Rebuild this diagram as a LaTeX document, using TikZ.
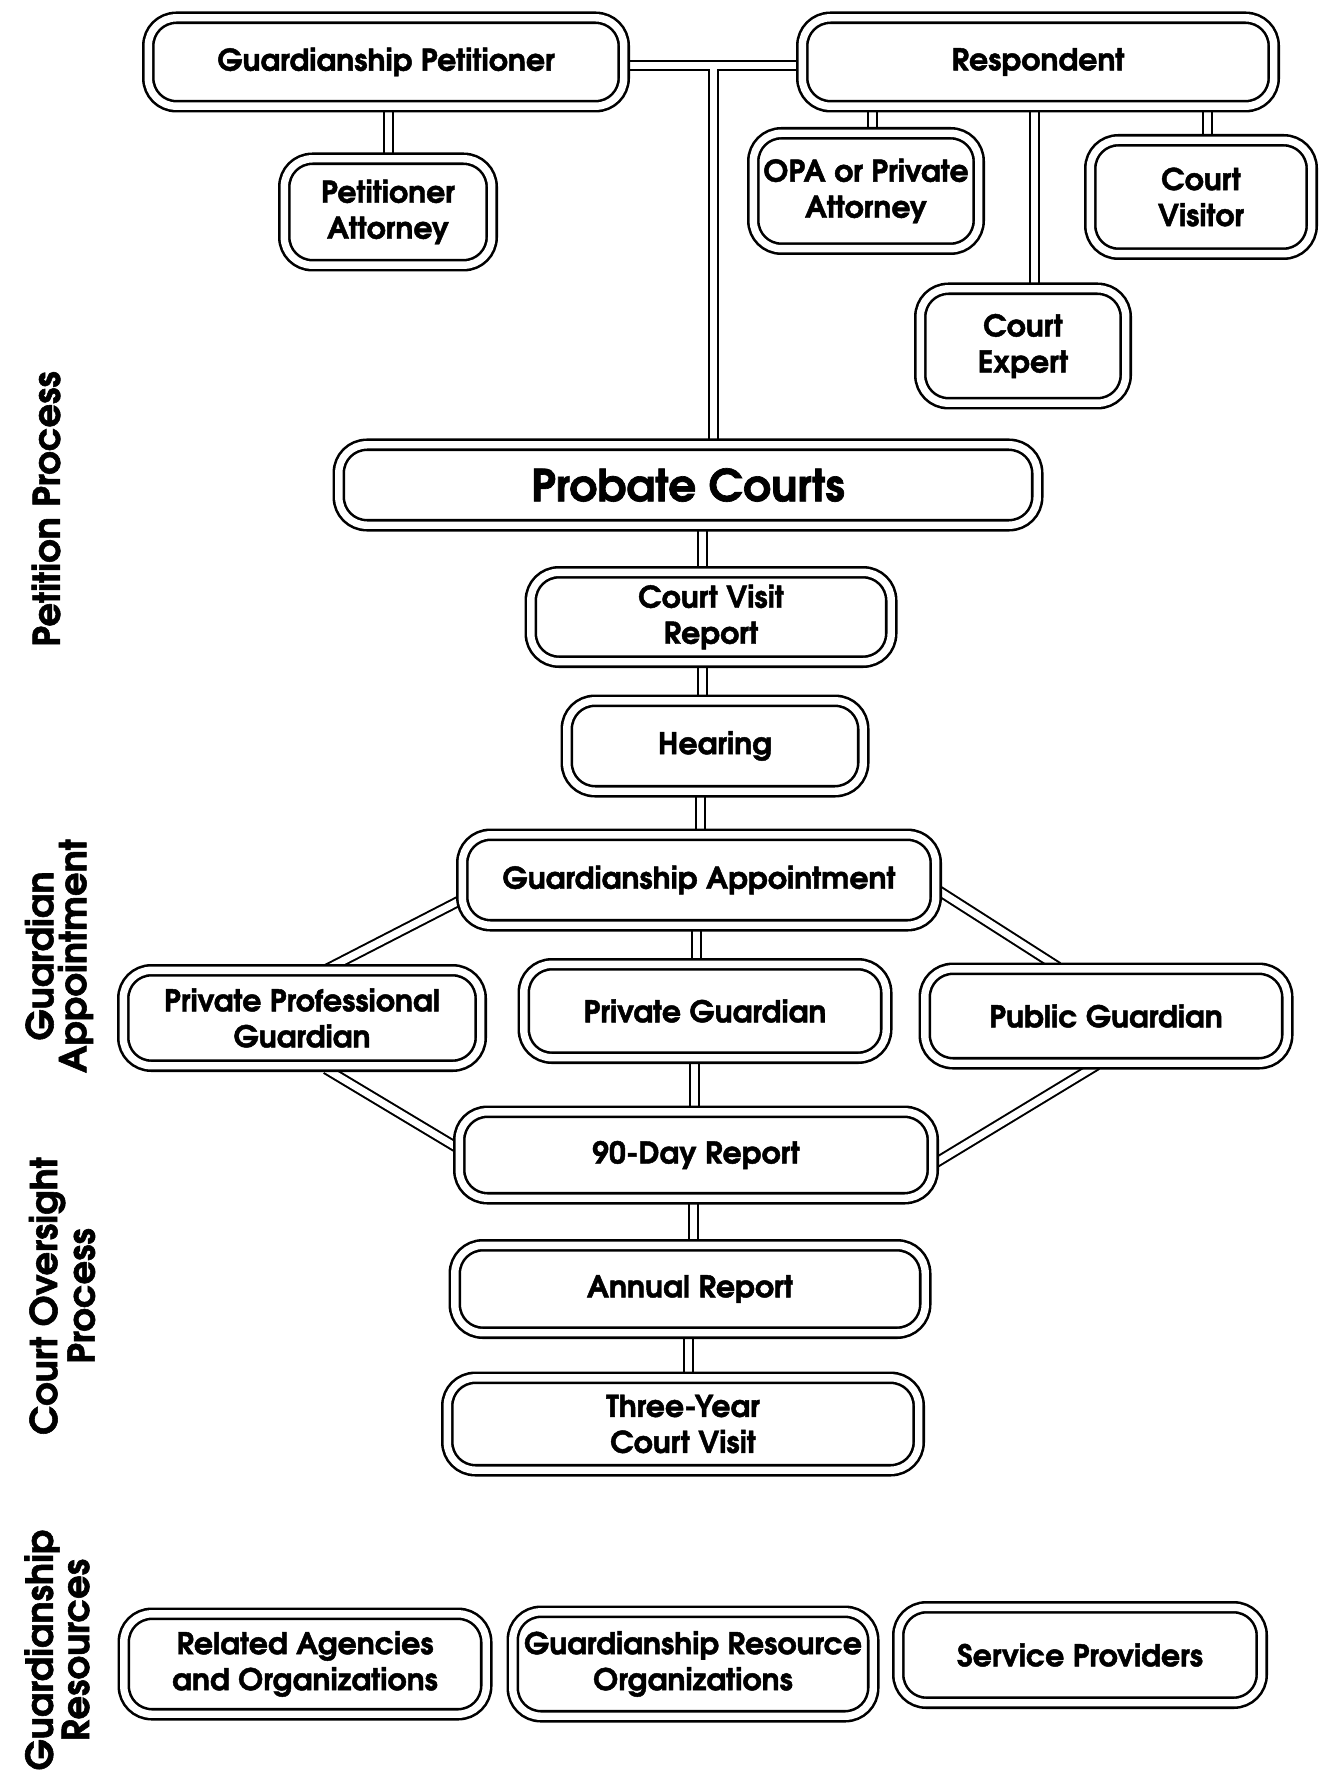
\documentclass[tikz,border=0pt]{standalone}
\usepackage{fontspec}
\setmainfont{TeX Gyre Adventor}[BoldFeatures={FakeBold=1.5}]
\usetikzlibrary{calc,backgrounds}
\tikzset{
  box/.style={draw=black, double=white, double distance=3.7pt, line width=1.3pt,
    rounded corners=14pt, fill=white, align=center, inner sep=0pt,
    font=\bfseries\fontsize{15}{18}\selectfont},
  cb/.style={line width=5.5pt, draw=black},
  cw/.style={line width=3.5pt, draw=white},
  side/.style={rotate=90, align=center, font=\bfseries\fontsize{18.5}{16.5}\selectfont}
}
\begin{document}
\begin{tikzpicture}[x=0.5pt,y=-0.5pt]
\useasboundingbox (0,0) rectangle (1323,1775);

% boxes
\node[box, minimum width=237.7pt, minimum height=44.2pt] (gp) at (386,62) {Guardianship Petitioner};
\node[box, minimum width=235.7pt, minimum height=44.2pt] (resp) at (1038,62) {Respondent};
\node[box, minimum width=103.7pt, minimum height=53.2pt] (pa) at (388,212) {Petitioner\\Attorney};
\node[box, minimum width=112.7pt, minimum height=57.7pt] (opa) at (866,191) {OPA or Private\\Attorney};
\node[box, minimum width=110.7pt, minimum height=56.7pt] (cv) at (1201,197) {Court\\Visitor};
\node[box, minimum width=102.7pt, minimum height=57.2pt] (ce) at (1023,346) {Court\\Expert};
\node[box, minimum width=349.2pt, minimum height=40.2pt, font=\bfseries\fontsize{22}{26}\selectfont] (pc) at (688,485) {Probate Courts};
\node[box, minimum width=180.2pt, minimum height=44.7pt] (cvr) at (711,617) {Court Visit\\Report};
\node[box, minimum width=148.2pt, minimum height=45.2pt] (hr) at (715,746) {Hearing};
\node[box, minimum width=236.7pt, minimum height=45.2pt] (ga) at (699,880) {Guardianship Appointment};
\node[box, minimum width=178.7pt, minimum height=47.7pt] (ppg) at (302,1018) {Private Professional\\Guardian};
\node[box, minimum width=181.2pt, minimum height=46.7pt] (pg) at (705,1011) {Private Guardian};
\node[box, minimum width=181.2pt, minimum height=47.2pt] (pub) at (1106,1016) {Public Guardian};
\node[box, minimum width=236.7pt, minimum height=43.2pt] (nd) at (696,1155) {90-Day Report};
\node[box, minimum width=235.2pt, minimum height=43.7pt] (ar) at (690,1289) {Annual Report};
\node[box, minimum width=235.7pt, minimum height=46.2pt] (ty) at (683,1424) {Three-Year\\Court Visit};
\node[box, minimum width=181.2pt, minimum height=50.2pt] (rao) at (305,1664) {Related Agencies\\and Organizations};
\node[box, minimum width=180.2pt, minimum height=52.2pt] (gro) at (693,1664) {Guardianship Resource\\Organizations};
\node[box, minimum width=181.7pt, minimum height=47.7pt] (sp) at (1080,1655) {Service Providers};

% side labels
\node[side] (l1) at (46,509) {Petition Process};
\node[side] (l2) at (59,956) {Guardian\\Appointment};
\node[side] (l3) at (62,1296) {Court Oversight\\Process};
\node[side] (l4) at (57,1650) {Guardianship\\Resources};

% connector helper coordinates
\coordinate (jn) at (713,66);
\coordinate (opaj) at (872,150);
\coordinate (cej) at (1034,200);
\coordinate (cvj) at (1207,150);
\coordinate (c1) at (702,550);
\coordinate (c2) at (702,680);
\coordinate (c3) at (700,810);
\coordinate (c4) at (696,940);
\coordinate (c5) at (694,1080);
\coordinate (c6) at (693,1220);
\coordinate (c7) at (688,1350);

\begin{pgfonlayer}{background}
\fill[white] (0,0) rectangle (1323,1775);
\foreach \s in {cb,cw}{
  \draw[\s] (jn -| gp) -- (jn -| resp);
  \draw[\s] (jn) -- (jn |- pc);
  \draw[\s] (pa) -- (pa |- gp);
  \draw[\s] (opaj |- resp) -- (opaj |- opa);
  \draw[\s] (cej |- resp) -- (cej |- ce);
  \draw[\s] (cvj |- resp) -- (cvj |- cv);
  \draw[\s] (c1 |- pc) -- (c1 |- cvr);
  \draw[\s] (c2 |- cvr) -- (c2 |- hr);
  \draw[\s] (c3 |- hr) -- (c3 |- ga);
  \draw[\s] (c4 |- ga) -- (c4 |- pg);
  \draw[\s] (c5 |- pg) -- (c5 |- nd);
  \draw[\s] (c6 |- nd) -- (c6 |- ar);
  \draw[\s] (c7 |- ar) -- (c7 |- ty);
  \draw[\s] ($(ga)+(-234,18)$) -- ($(ppg)+(25,-49)$);
  \draw[\s] ($(ga)+(237,9)$) -- ($(pub)+(-48,-49)$);
  \draw[\s] ($(ppg)+(24,51)$) -- ($(nd)+(-235,-5)$);
  \draw[\s] ($(pub)+(-9,49)$) -- ($(nd)+(236,10)$);
}
\end{pgfonlayer}
\end{tikzpicture}
\end{document}
